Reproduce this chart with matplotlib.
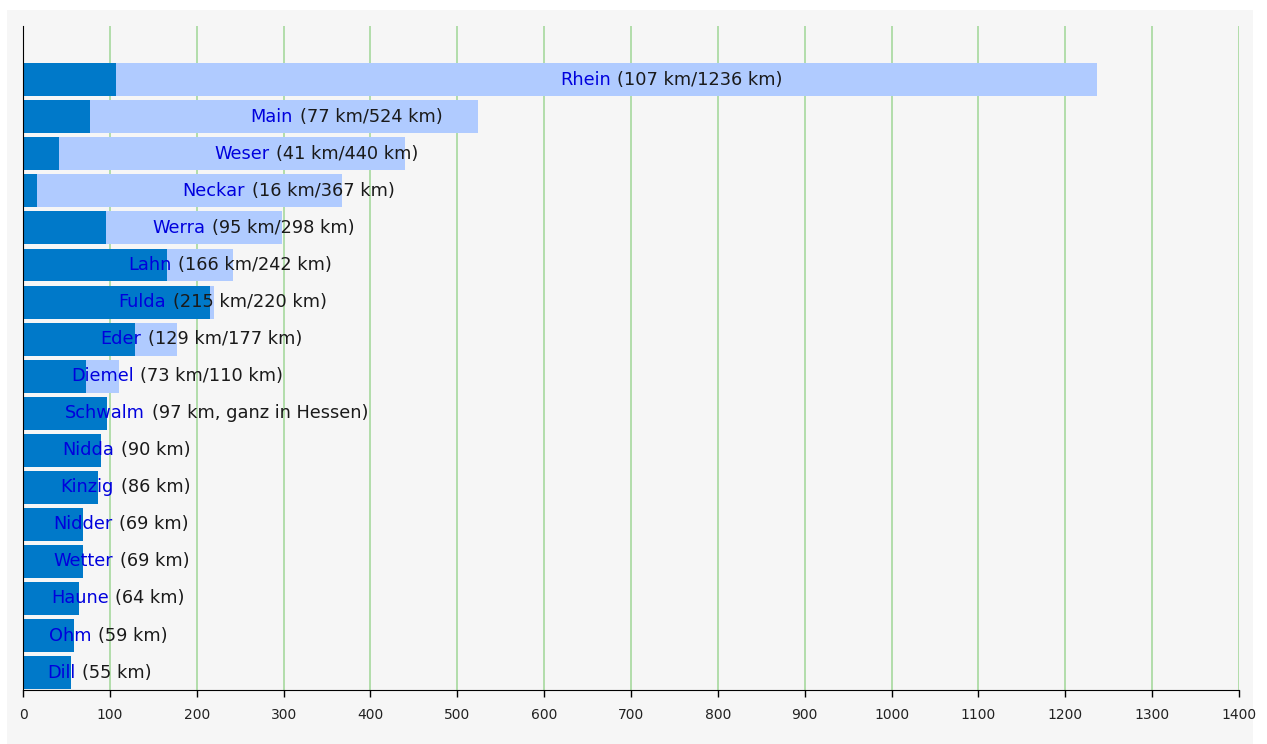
import matplotlib
matplotlib.use("Agg")
import matplotlib.pyplot as plt
from matplotlib.patches import Rectangle
import numpy as np

# river names, length inside Hessen, total length (None = ganz in Hessen)
rivers = ["Rhein", "Main", "Weser", "Neckar", "Werra", "Lahn", "Fulda", "Eder",
          "Diemel", "Schwalm", "Nidda", "Kinzig", "Nidder", "Wetter", "Haune",
          "Ohm", "Dill"]
hessen = [107, 77, 41, 16, 95, 166, 215, 129, 73, 97, 90, 86, 69, 69, 64, 59, 55]
total = [1236, 524, 440, 367, 298, 242, 220, 177, 110, None, None, None, None,
         None, None, None, None]
notes = {"Schwalm": "ganz in Hessen"}

fig = plt.figure(figsize=(12.67, 7.44), dpi=100)
fig.patch.set_facecolor("white")
# grey panel behind the chart
fig.patches.append(Rectangle((7 / 1267, 0), 1246 / 1267, 734 / 744,
                             transform=fig.transFigure, facecolor="#f6f6f6",
                             edgecolor="none", zorder=-10))

ax = fig.add_axes([23 / 1267, 1 - 690 / 744, 1216 / 1267, 664 / 744])
ax.set_facecolor("none")

n = len(rivers)
y = np.arange(n)[::-1]
h = 0.89

tot_vals = [t if t is not None else 0 for t in total]
ax.barh(y, tot_vals, height=h, color="#b0cbff", zorder=2)
ax.barh(y, hessen, height=h, color="#0079c9", zorder=3)

for i in range(n):
    name = rivers[i]
    if total[i] is not None:
        rest = f"({hessen[i]} km/{total[i]} km)"
        x0 = total[i] / 2
    else:
        if name in notes:
            rest = f"({hessen[i]} km, {notes[name]})"
        else:
            rest = f"({hessen[i]} km)"
        x0 = hessen[i] / 2
    t1 = ax.text(x0, y[i], name, color="#0000dd", fontsize=12.8,
                 ha="left", va="center", zorder=5)
    ax.annotate(rest, xy=(1, 0.5), xycoords=t1, xytext=(5, 0),
                textcoords="offset points", color="#1a1a1a", fontsize=12.8,
                ha="left", va="center", zorder=5)

ax.set_xlim(0, 1400)
ax.set_ylim(-0.47, 17.45)
ax.set_xticks(np.arange(0, 1401, 100))
ax.set_yticks([])
ax.grid(axis="x", color="#a6d89e", linewidth=1.2, zorder=0)
ax.set_axisbelow(True)
for s in ["top", "right"]:
    ax.spines[s].set_visible(False)
ax.spines["left"].set_color("black")
ax.spines["bottom"].set_color("black")
ax.spines["left"].set_zorder(6)
ax.spines["bottom"].set_zorder(6)
ax.tick_params(axis="x", length=5, width=1, pad=8, labelsize=10,
               labelcolor="#222222")

fig.savefig("out.png", dpi=100)
